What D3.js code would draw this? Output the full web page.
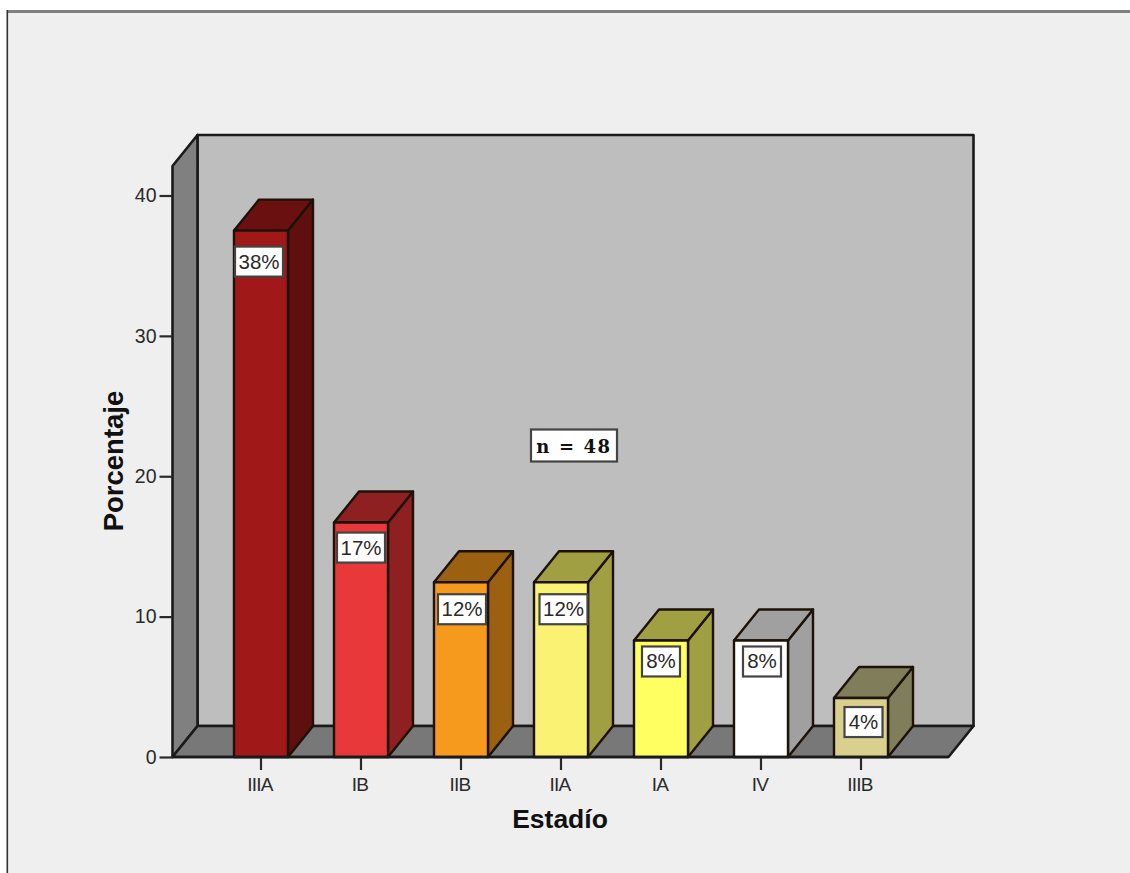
<!DOCTYPE html>
<html lang="es">
<head>
<meta charset="utf-8">
<title>Estadío</title>
<script src="https://cdn.jsdelivr.net/npm/d3@7/dist/d3.min.js"></script>
<style>
html,body{margin:0;padding:0;background:#fff;overflow:hidden}
svg{display:block}
</style>
</head>
<body>
<svg id="chart" width="1130" height="873"></svg>
<script>
// Data
const stages = ["IIIA", "IB", "IIB", "IIA", "IA", "IV", "IIIB"];
const percentages = [37.5, 16.7, 12.45, 12.45, 8.3, 8.3, 4.2];
const percentTicks = [0, 10, 20, 30, 40];
const sampleNote = "n = 48";
const xTitle = "Estadío";
const yTitle = "Porcentaje";

// Bar colours: front, side and top faces
const frontColors = ["#a11819", "#e8383a", "#f59a1c", "#f9f272", "#ffff62", "#ffffff", "#d9d08e"];
const sideColors  = ["#5e0f0e", "#8e2022", "#9b6010", "#a0a042", "#a0a042", "#a0a0a0", "#807d5a"];
const topColors   = ["#6a1010", "#8e2022", "#9b6010", "#a0a042", "#a0a042", "#a0a0a0", "#807d5a"];

// Label box placement relative to each bar's top centre
const labelDrop = [31, 25, 27, 27, 21, 21, 24];
const labelShift = [-2, 0, 1, 2.5, 0, 1, 2.5];

const svg = d3.select("#chart");
const ink = "#1a1a1a";
const sans = "'Liberation Sans', Arial, sans-serif";

// Depth of the pseudo-3D projection
const depthX = 25, depthY = -31;

const y = d3.scaleLinear().domain([0, 40]).range([757, 195.5]);
const x = d3.scaleBand().domain(stages).range([211, 911]).paddingInner(0.46).paddingOuter(0.23);

const left = 172.5, right = 948.5, floorY = y(0), topY = 166;
const pts = a => a.map(p => p.join(",")).join(" ");

// Frame background with the dark top and left edges
svg.append("rect").attr("x", 7).attr("y", 11).attr("width", 1123).attr("height", 862).attr("fill", "#efefef");
svg.append("rect").attr("x", 7).attr("y", 10).attr("width", 1123).attr("height", 3).attr("fill", "#7f7f7f");
svg.append("rect").attr("x", 6.5).attr("y", 10).attr("width", 1.6).attr("height", 863).attr("fill", "#333");

// Walls and floor of the plotting box
const box = svg.append("g").attr("stroke", ink).attr("stroke-width", 2.6).attr("stroke-linejoin", "round");
box.append("polygon").attr("fill", "#bebebe").attr("points", pts([
  [left + depthX, topY + depthY], [right + depthX, topY + depthY],
  [right + depthX, floorY + depthY], [left + depthX, floorY + depthY]]));
box.append("polygon").attr("fill", "#808080").attr("points", pts([
  [left, topY], [left + depthX, topY + depthY],
  [left + depthX, floorY + depthY], [left, floorY]]));
box.append("polygon").attr("fill", "#787878").attr("points", pts([
  [left, floorY], [left + depthX, floorY + depthY],
  [right + depthX, floorY + depthY], [right, floorY]]));

// Bars
const rows = stages.map((s, i) => ({stage: s, value: percentages[i], i}));
const bars = svg.append("g").selectAll("g").data(rows).join("g")
  .attr("stroke", "#1c1208").attr("stroke-width", 2.4).attr("stroke-linejoin", "round");

bars.append("polygon").attr("fill", d => sideColors[d.i]).attr("points", d => {
  const r = x(d.stage) + x.bandwidth(), t = y(d.value);
  return pts([[r, t], [r + depthX, t + depthY], [r + depthX, floorY + depthY], [r, floorY]]);
});
bars.append("polygon").attr("fill", d => topColors[d.i]).attr("points", d => {
  const l = x(d.stage), r = l + x.bandwidth(), t = y(d.value);
  return pts([[l, t], [l + depthX, t + depthY], [r + depthX, t + depthY], [r, t]]);
});
bars.append("rect").attr("fill", d => frontColors[d.i])
  .attr("x", d => x(d.stage)).attr("y", d => y(d.value))
  .attr("width", x.bandwidth()).attr("height", d => floorY - y(d.value));

// Axes
const yAxis = d3.axisLeft(y).tickValues(percentTicks).tickSize(13).tickPadding(3);
const xAxis = d3.axisBottom(x).tickSize(13).tickPadding(5);

const gy = svg.append("g").attr("transform", `translate(${left},0)`).call(yAxis);
const gx = svg.append("g").attr("transform", `translate(0,${floorY})`).call(xAxis);
for (const g of [gy, gx]) {
  g.select(".domain").remove();
  g.selectAll("line").attr("stroke", "#2a2a2a").attr("stroke-width", 2.2);
  g.selectAll("text").attr("fill", "#2a2a2a").attr("font-family", sans).attr("font-size", 19.5);
}
gx.selectAll("text").attr("font-size", 19).attr("letter-spacing", -0.8).attr("dx", -1).attr("dy", "0.85em");
svg.append("line").attr("x1", left).attr("x2", right).attr("y1", floorY).attr("y2", floorY)
  .attr("stroke", ink).attr("stroke-width", 2.6);

// Percentage labels, rounded from the plotted values
const fmt = v => d3.format(".0f")(v) + "%";
const labels = svg.append("g").selectAll("g").data(rows).join("g")
  .attr("transform", d => `translate(${x(d.stage) + x.bandwidth() / 2 + labelShift[d.i]},${y(d.value) + labelDrop[d.i]})`);
labels.append("rect")
  .attr("x", d => d.value >= 10 ? -24 : -19).attr("y", -15)
  .attr("width", d => d.value >= 10 ? 48 : 38).attr("height", 30)
  .attr("fill", "#fff").attr("stroke", "#444").attr("stroke-width", 2.2);
labels.append("text").attr("text-anchor", "middle").attr("dy", 7)
  .attr("font-family", sans).attr("font-size", 20.5)
  .attr("fill", "#2a2a2a").text(d => fmt(d.value));

// Sample size note
const note = svg.append("g").attr("transform", "translate(574,446)");
note.append("rect").attr("x", -43).attr("y", -16.5).attr("width", 86).attr("height", 32)
  .attr("fill", "#fff").attr("stroke", "#444").attr("stroke-width", 2.2);
note.append("text").attr("text-anchor", "middle").attr("dy", 6.5)
  .attr("font-family", "'DejaVu Serif', serif").attr("font-weight", "bold")
  .attr("font-size", 18).attr("letter-spacing", 1.6).attr("fill", "#111").text(sampleNote);

// Axis titles
svg.append("text").attr("x", 560).attr("y", 828).attr("text-anchor", "middle")
  .attr("font-family", sans).attr("font-weight", "bold")
  .attr("font-size", 26.5).attr("fill", "#111").text(xTitle);
svg.append("text").attr("transform", "translate(123,461) rotate(-90)").attr("text-anchor", "middle")
  .attr("font-family", sans).attr("font-weight", "bold")
  .attr("font-size", 27.5).attr("fill", "#111").text(yTitle);
</script>
</body>
</html>
